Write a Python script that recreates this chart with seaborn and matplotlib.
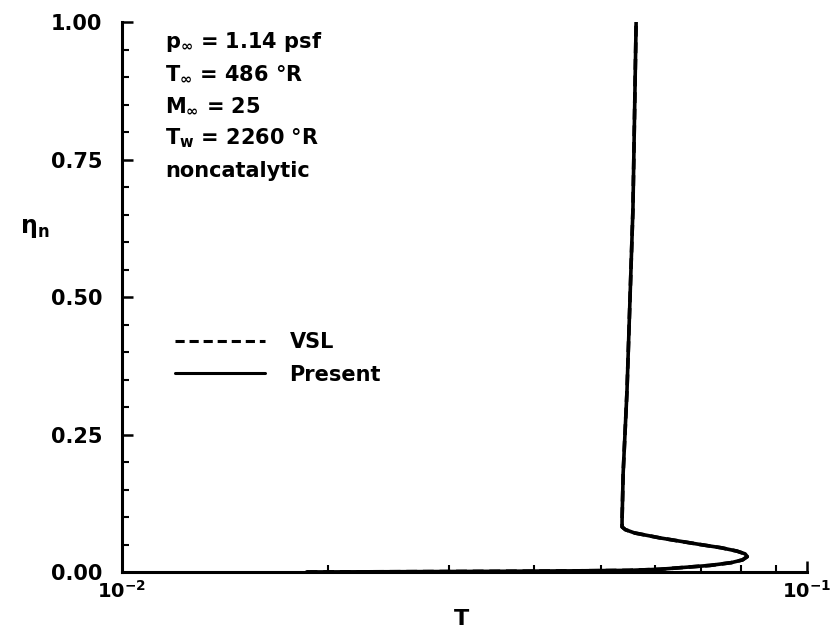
import numpy as np
import pandas as pd
import matplotlib
matplotlib.use("Agg")
import matplotlib.pyplot as plt
import seaborn as sns
from matplotlib.ticker import FixedLocator, LogLocator, NullFormatter

# Datos (T vs eta_n)
t_present = [0.0186, 0.025, 0.035, 0.045, 0.055, 0.061, 0.0722, 0.0775, 0.0805,
             0.0818, 0.0812, 0.0790, 0.0750, 0.0698, 0.061, 0.0560, 0.0543,
             0.0537, 0.0537, 0.0539, 0.0546, 0.0557, 0.0563]
eta_present = [0.0, 0.0005, 0.0012, 0.002, 0.003, 0.005, 0.012, 0.017, 0.022,
               0.028, 0.033, 0.038, 0.044, 0.050, 0.062, 0.071, 0.077,
               0.082, 0.093, 0.18, 0.33, 0.66, 1.0]

# VSL coincide con la solucion presente
t_vsl = list(t_present)
eta_vsl = list(eta_present)

y_ticks = [0.0, 0.25, 0.5, 0.75, 1.0]
y_ticklabels = ["0.00", "0.25", "0.50", "0.75", "1.00"]
x_ticks = [0.01, 0.1]
x_ticklabels = [r"$10^{-2}$", r"$10^{-1}$"]

condiciones = [r"$p_{\infty}$ = 1.14 psf",
               r"$T_{\infty}$ = 486 °R",
               r"$M_{\infty}$ = 25",
               r"$T_{w}$ = 2260 °R",
               "noncatalytic"]

sns.set_style("ticks")
plt.rcParams["font.family"] = ["DejaVu Sans"]
plt.rcParams["font.weight"] = "bold"
plt.rcParams["mathtext.fontset"] = "dejavusans"
plt.rcParams["mathtext.default"] = "bf"
plt.rcParams["text.color"] = "black"
plt.rcParams["axes.labelcolor"] = "black"
plt.rcParams["xtick.color"] = "black"
plt.rcParams["ytick.color"] = "black"

df = pd.concat([
    pd.DataFrame({"T": t_vsl, "eta": eta_vsl, "caso": "VSL"}),
    pd.DataFrame({"T": t_present, "eta": eta_present, "caso": "Present"}),
])

fig = plt.figure(figsize=(8.32, 6.44), dpi=100)
ax = fig.add_axes([0.1466, 0.1118, 0.8234, 0.854])

sns.lineplot(data=df, x="T", y="eta", style="caso", sort=False, estimator=None,
             color="black", linewidth=2.6,
             dashes={"VSL": (3, 1.6), "Present": ""}, ax=ax)

ax.set_xscale("log")
ax.set_xlim(0.01, 0.1)
ax.set_ylim(0, 1)

sns.despine(ax=ax)
for s in ["left", "bottom"]:
    ax.spines[s].set_linewidth(2.2)
    ax.spines[s].set_color("black")

ax.yaxis.set_major_locator(FixedLocator(y_ticks))
ax.set_yticklabels(y_ticklabels)
ax.yaxis.set_minor_locator(FixedLocator(np.arange(0.05, 1.0, 0.05)))
ax.set_xticks(x_ticks)
ax.set_xticklabels(x_ticklabels)
ax.xaxis.set_minor_locator(LogLocator(base=10, subs=np.arange(2, 10)))
ax.xaxis.set_minor_formatter(NullFormatter())

ax.tick_params(axis="both", which="major", direction="in", length=8, width=1.8,
               labelsize=15, labelcolor="black")
ax.tick_params(axis="x", which="major", labelsize=14)
ax.tick_params(axis="both", which="minor", direction="in", length=5, width=1.5)
ax.tick_params(axis="y", which="major", pad=14)
ax.tick_params(axis="x", which="major", pad=6)

ax.set_xlabel("T", fontsize=16, fontweight="bold")
ax.xaxis.set_label_coords(0.496, -0.068)
ax.set_ylabel(r"$\eta_n$", fontsize=17, rotation=0)
ax.yaxis.set_label_coords(-0.127, 0.604)

for i, linea in enumerate(condiciones):
    ax.text(0.063, 0.964 - i * 0.0585, linea, transform=ax.transAxes,
            fontsize=15, fontweight="bold", va="center", ha="left")

leg = ax.legend(loc="upper left", bbox_to_anchor=(0.05, 0.47), frameon=False,
                fontsize=15, handlelength=4.3, handletextpad=1.2,
                labelspacing=0.6)
for h in leg.get_lines():
    h.set_linewidth(2.2)

fig.savefig("out.png", dpi=100)
